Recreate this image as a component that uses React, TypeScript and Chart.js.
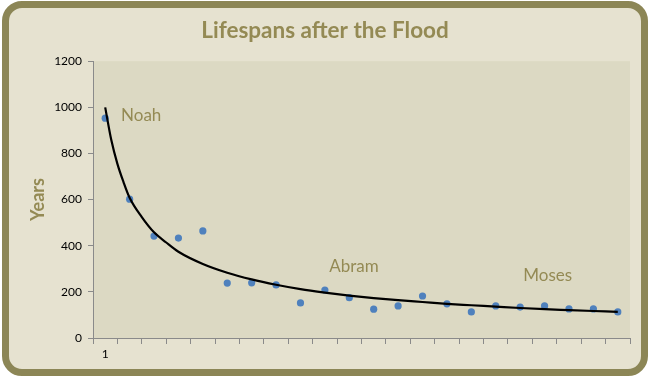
import React, { useEffect, useRef } from 'react';
import { Chart, registerables } from 'chart.js';

Chart.register(...registerables);

const categories = ['1', '2', '3', '4', '5', '6', '7', '8', '9', '10', '11', '12', '13', '14', '15', '16', '17', '18', '19', '20', '21', '22'];
const lifespans = [953, 602, 442, 433, 464, 238, 239, 230, 152, 208, 175, 125, 139, 182, 148, 113, 139, 134, 139, 126, 126, 113];
// trend curve (position along the category axis, years)
const trendX = [1, 1.25, 1.5, 1.75, 2, 2.5, 3, 3.5, 4, 5, 6, 7, 8, 9, 10, 11, 12, 13, 14, 15, 16, 17, 18, 19, 20, 21, 22];
const trendValues = [1000, 858, 755, 676, 608, 524, 458, 414, 374, 321, 283, 254, 231, 212, 197, 184, 173, 164, 156, 148, 142, 136, 130, 125, 121, 117, 113];
const yTicks = [0, 200, 400, 600, 800, 1000, 1200];
const noteLabels = ['Noah', 'Abram', 'Moses'];
const noteCategoryPos = [0.65, 9.18, 17.13];
const noteValues = [966, 312, 269];

const TITLE = 'Lifespans after the Flood';
const Y_TITLE = 'Years';
const OLIVE = '#948a54';
const FONT = 'Lato';

const plotBgPlugin = {
  id: 'plotBg',
  beforeDraw(chart: any) {
    const { ctx, chartArea } = chart;
    ctx.save();
    ctx.fillStyle = '#dcd9c3';
    ctx.fillRect(chartArea.left, chartArea.top, chartArea.right - chartArea.left, chartArea.bottom - chartArea.top);
    ctx.restore();
  },
};

const notesPlugin = {
  id: 'notes',
  afterDatasetsDraw(chart: any) {
    const { ctx, scales } = chart;
    ctx.save();
    ctx.fillStyle = OLIVE;
    ctx.font = `17px ${FONT}`;
    ctx.textAlign = 'left';
    ctx.textBaseline = 'middle';
    noteLabels.forEach((t, i) => {
      const x = scales.x.getPixelForValue(noteCategoryPos[i]);
      const y = scales.y.getPixelForValue(noteValues[i]);
      ctx.fillText(t, x, y);
    });
    ctx.restore();
  },
};

export default function App() {
  const ref = useRef<HTMLCanvasElement>(null);
  useEffect(() => {
    const chart = new Chart(ref.current as HTMLCanvasElement, {
      type: 'line',
      data: {
        labels: categories,
        datasets: [
          {
            label: 'Lifespan',
            data: lifespans,
            xAxisID: 'x',
            showLine: false,
            pointRadius: 3.6,
            pointBackgroundColor: '#4f81bd',
            pointBorderColor: '#4f81bd',
            pointBorderWidth: 0,
            order: 2,
          },
          {
            label: 'Trend',
            data: trendX.map((x, i) => ({ x, y: trendValues[i] })),
            xAxisID: 'xt',
            borderColor: '#000000',
            borderWidth: 2.2,
            pointRadius: 0,
            cubicInterpolationMode: 'monotone',
            fill: false,
            order: 1,
          },
        ],
      },
      options: {
        responsive: false,
        animation: false,
        layout: { padding: { top: 8, right: 20, bottom: 0, left: 20 } },
        plugins: {
          legend: { display: false },
          tooltip: { enabled: false },
          title: {
            display: true,
            text: TITLE,
            color: OLIVE,
            font: { family: FONT, size: 22.5, weight: 'bold' },
            padding: { top: 9, bottom: 17.2 },
          },
        },
        scales: {
          x: {
            type: 'category',
            offset: true,
            afterFit(scale: any) {
              scale.height = 39;
            },
            grid: {
              offset: true,
              drawOnChartArea: false,
              drawTicks: true,
              tickLength: 6,
              color: '#8a8a8a',
            },
            border: { display: true, color: '#8a8a8a', width: 1 },
            ticks: {
              autoSkip: false,
              maxRotation: 0,
              padding: 3,
              color: '#000000',
              font: { family: FONT, size: 12 },
              callback: (_v: any, i: number) => (i === 0 ? categories[0] : ''),
            },
          },
          xt: {
            type: 'linear',
            display: false,
            min: 0.5,
            max: categories.length + 0.5,
          },
          y: {
            min: 0,
            max: 1200,
            afterFit(scale: any) {
              scale.width = 73;
            },
            afterBuildTicks(scale: any) {
              scale.ticks = yTicks.map((v) => ({ value: v }));
            },
            grid: {
              drawOnChartArea: false,
              drawTicks: true,
              tickLength: 5,
              color: '#8a8a8a',
            },
            border: { display: true, color: '#8a8a8a', width: 1 },
            ticks: {
              padding: 6,
              color: '#000000',
              font: { family: FONT, size: 12 },
              callback: (v: any) => String(v),
            },
            title: {
              display: true,
              text: Y_TITLE,
              color: OLIVE,
              font: { family: FONT, size: 18, weight: 'bold' },
              padding: { top: 7, bottom: 0 },
            },
          },
        },
      },
      plugins: [plotBgPlugin, notesPlugin],
    } as any);
    return () => chart.destroy();
  }, []);

  return (
    <div style={{ position: 'fixed', left: 0, top: 0, width: 650, height: 377, background: '#ffffff' }}>
      <div
        style={{
          position: 'absolute',
          left: 2,
          top: 1,
          width: 646,
          height: 375,
          boxSizing: 'border-box',
          border: '7px solid #8c8656',
          borderRadius: 20,
          background: '#e6e2d0',
        }}
      />
      <canvas ref={ref} width={650} height={377} style={{ position: 'absolute', left: 0, top: 0, width: 650, height: 377 }} />
    </div>
  );
}
